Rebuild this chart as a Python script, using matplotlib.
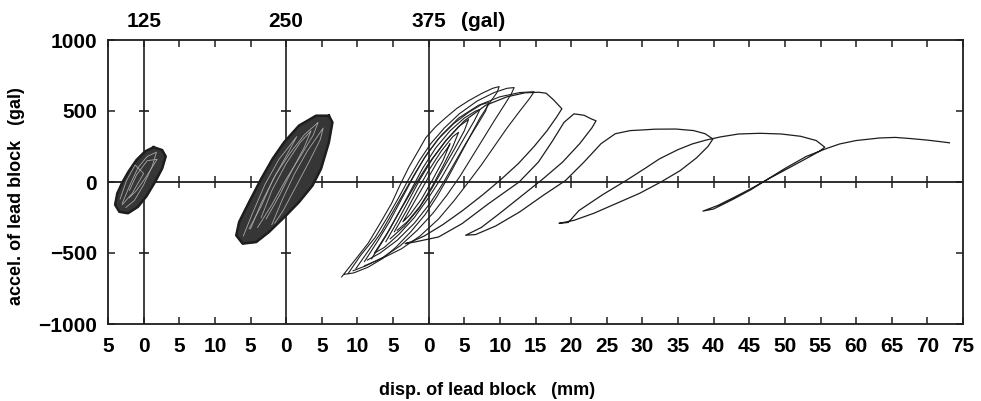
import numpy as np
import matplotlib.pyplot as plt
from matplotlib.transforms import blended_transform_factory

plt.rcParams['font.family'] = ['Liberation Sans', 'DejaVu Sans']
plt.rcParams['font.weight'] = 'bold'

# input levels (gal) and where each panel's zero sits on the shared axis (mm)
levels = ["125", "250", "375"]
origins = [0, 20, 40]

# 125 gal: outline of the dense loop bundle (mm, gal)
blob125 = [(1.4, 245), (2.6, 225), (3.1, 180), (2.6, 95), (1.6, 0), (0.4, -100),
           (-0.8, -175), (-2.2, -220), (-3.4, -210), (-4.0, -160), (-3.7, -81),
           (-3.0, -4), (-2.1, 75), (-1.0, 155), (0.2, 215), (1.4, 245)]
inner125 = [[(-3.0, -150), (-2.0, -30), (-0.8, 100), (0.5, 180), (1.8, 210), (1.2, 110),
             (0.0, -20), (-1.3, -130), (-2.5, -180)],
            [(-2.0, -60), (-1.0, 50), (0.5, 150), (1.9, 160), (0.4, 40), (-1.0, -60),
             (-2.0, -110)],
            [(-3.3, -120), (-2.4, 10), (-1.2, 120), (0.0, 60), (-1.6, -80), (-3.0, -160)]]

# 250 gal
blob250 = [(6.0, 467), (6.5, 420), (6.0, 279), (4.9, 93), (3.7, -25), (1.8, -142),
           (0.0, -235), (-2.4, -352), (-4.2, -423), (-6.1, -434), (-7.0, -376),
           (-6.6, -282), (-5.2, -142), (-3.5, 22), (-1.9, 163), (-0.3, 279),
           (1.8, 397), (4.2, 467), (6.0, 467)]
inner250 = [[(-5.0, -330), (-3.5, -150), (-1.5, 50), (0.5, 200), (2.5, 330), (4.5, 420),
             (3.8, 330), (2.0, 180), (0.0, 20), (-2.0, -160), (-4.0, -320)],
            [(-3.5, -250), (-2.0, -60), (0.0, 130), (2.0, 280), (3.5, 360), (2.5, 240),
             (0.8, 80), (-1.0, -100), (-2.8, -260)],
            [(-6.0, -380), (-4.8, -230), (-3.0, -20), (-1.0, 160), (1.5, 320), (0.2, 200),
             (-1.8, 20), (-3.5, -170), (-5.2, -330)],
            [(-2.0, -300), (-0.5, -120), (1.2, 60), (3.0, 220), (5.2, 380), (4.8, 300),
             (3.2, 140), (1.4, -30), (-0.4, -200), (-1.6, -290)]]

# 375 gal: cluster loops
loops375 = [
    [(-12.2, -668), (-10.5, -560), (-8.5, -432), (-6.8, -290), (-5.2, -151), (-4.0, -20),
     (-2.8, 102), (-1.5, 215), (-0.4, 312), (1.0, 390), (2.4, 453), (4.0, 520), (5.6, 572),
     (7.5, 625), (9.0, 660), (9.9, 672), (9.6, 630), (8.6, 560), (7.2, 450), (5.8, 320),
     (4.3, 180), (2.8, 40), (1.2, -100), (-0.5, -230), (-2.5, -350), (-4.6, -460),
     (-6.5, -540), (-8.5, -600), (-10.5, -640), (-11.8, -650)],
    [(-11.3, -645), (-9.6, -520), (-7.5, -390), (-5.8, -250), (-4.2, -110), (-2.8, 20),
     (-1.3, 150), (0.3, 270), (2.2, 380), (4.3, 480), (6.8, 570), (9.2, 630), (11.0, 660),
     (12.0, 665), (11.6, 620), (10.6, 540), (9.2, 430), (7.6, 300), (6.0, 170), (4.4, 40),
     (2.6, -90), (0.6, -220), (-1.6, -340), (-4.0, -450), (-6.4, -530), (-8.8, -590),
     (-10.6, -625)],
    [(-10.2, -610), (-8.4, -480), (-6.6, -350), (-4.9, -200), (-3.3, -60), (-1.8, 70),
     (-0.2, 200), (1.8, 330), (4.2, 450), (7.0, 540), (10.0, 600), (12.8, 630), (14.8, 636),
     (14.2, 590), (12.8, 500), (11.0, 380), (9.2, 250), (7.4, 120), (5.6, 0), (3.6, -130),
     (1.4, -260), (-1.2, -380), (-3.8, -470), (-6.6, -540), (-9.0, -590)],
    [(-9.0, -560), (-7.2, -420), (-5.5, -280), (-3.8, -120), (-2.2, 30), (-0.6, 170),
     (1.3, 300), (3.5, 410), (5.6, 490), (7.4, 545), (8.4, 560), (8.0, 500), (6.8, 400),
     (5.2, 270), (3.6, 130), (2.0, -10), (0.2, -150), (-2.0, -290), (-4.4, -410),
     (-6.8, -500), (-8.6, -550)],
    [(-7.6, -500), (-5.8, -360), (-4.0, -200), (-2.4, -50), (-0.8, 100), (1.0, 240),
     (3.0, 360), (5.0, 450), (6.6, 500), (7.2, 510), (6.4, 430), (5.0, 310), (3.4, 170),
     (1.8, 30), (0.0, -110), (-2.0, -250), (-4.2, -370), (-6.2, -460), (-7.4, -495)],
    [(-6.0, -420), (-4.4, -280), (-2.8, -130), (-1.2, 20), (0.5, 160), (2.4, 290),
     (4.2, 390), (5.6, 440), (5.0, 360), (3.6, 230), (2.0, 90), (0.4, -50), (-1.4, -190),
     (-3.4, -310), (-5.4, -400)],
    [(-4.8, -350), (-3.2, -210), (-1.6, -60), (0.0, 80), (1.8, 220), (3.4, 320), (4.2, 350),
     (3.4, 250), (2.0, 110), (0.5, -30), (-1.2, -170), (-3.0, -280), (-4.4, -340)],
    [(-3.6, -280), (-2.0, -140), (-0.4, 0), (1.2, 140), (2.8, 250), (3.0, 270), (2.0, 150),
     (0.6, 20), (-1.0, -120), (-2.6, -230), (-3.4, -270)],
]

# 375 gal: ratcheting excursions after yielding
drift375 = [(-8.0, -540), (-6.0, -380), (-4.0, -200), (-2.0, -30), (0.0, 130), (2.4, 290),
            (5.0, 430), (8.0, 540), (11.0, 600), (13.5, 628), (15.5, 632), (16.5, 625),
            (17.5, 580), (18.7, 516),
            (18.0, 460), (16.6, 360), (14.8, 250), (12.6, 130), (10.2, 20), (7.6, -90),
            (4.8, -200), (2.0, -300), (-0.6, -380), (-2.4, -420), (-3.3, -434),
            (-1.9, -422), (1.4, -387), (4.7, -293), (8.4, -153), (12.7, 0), (15.4, 140),
            (17.4, 290), (19.0, 420), (20.4, 480), (21.8, 470), (22.8, 445), (23.5, 431),
            (22.9, 380), (21.2, 270), (18.8, 140), (16.0, 20), (13.0, -100), (10.0, -220),
            (7.4, -320), (5.2, -375),
            (6.6, -370), (9.4, -310), (12.8, -210), (16.2, -90), (19.2, 10), (21.8, 140),
            (24.2, 270), (26.2, 340), (28.3, 362), (29.8, 366),
            (31.8, 372), (34.7, 373), (37.2, 362), (38.8, 340), (39.9, 303),
            (39.2, 250), (37.6, 170), (35.3, 80), (32.6, 0), (29.6, -80), (26.4, -150),
            (23.2, -220), (20.4, -270), (18.3, -291),
            (19.6, -285), (21.1, -201), (24.4, -90), (27.7, 10), (30.5, 100), (32.4, 163),
            (35.0, 228), (37.0, 268), (39.0, 296), (41.0, 318), (43.5, 338), (46.5, 343),
            (49.5, 338), (52.2, 322), (54.4, 292), (55.6, 245),
            (54.8, 215), (53.0, 165), (50.6, 100), (48.0, 30), (45.5, -40), (43.0, -105),
            (40.6, -165), (38.5, -205),
            (40.0, -190), (42.8, -120), (45.2, -55), (47.1, 5), (50.0, 95), (53.0, 180),
            (55.8, 235), (57.7, 268), (60.0, 292), (63.3, 310), (65.5, 314), (67.6, 306),
            (70.0, 295), (72.0, 283), (73.1, 276)]

LC = "#1e1e1e"

def xy(pts, o):
    a = np.array(pts, dtype=float)
    return a[:, 0] + o, a[:, 1]

fig = plt.figure(figsize=(9.81, 4.01), dpi=100)
ax = fig.add_axes([108 / 981, 77 / 401, 855 / 981, 284 / 401])

# axis cross lines
ax.axhline(0, color=LC, lw=1.3, zorder=1)
for o in origins:
    ax.axvline(o, color=LC, lw=1.2, zorder=1)
    ax.hlines([500, -500], o - 0.7, o + 0.7, color=LC, lw=1.2, zorder=1)
xt = np.arange(-5, 116, 5)
ax.vlines([t for t in xt if t not in origins and -5 < t < 115], -40, 40,
          color=LC, lw=1.1, zorder=1)

# 125 and 250 gal bundles
for pts, inner, o in [(blob125, inner125, origins[0]), (blob250, inner250, origins[1])]:
    x, y = xy(pts, o)
    ax.fill(x, y, color="#363636", zorder=2)
    ax.plot(x, y, color=LC, lw=1.8, zorder=3)
    for lp in inner:
        x, y = xy(lp, o)
        ax.plot(x, y, color="#a8a8a8", lw=0.6, zorder=3)

# 375 gal
for lp in loops375:
    x, y = xy(lp, origins[2])
    ax.plot(x, y, color=LC, lw=0.8, zorder=3)
x, y = xy(drift375, origins[2])
ax.plot(x, y, color=LC, lw=0.9, zorder=3)

ax.set_xlim(-5, 115)
ax.set_ylim(-1000, 1000)
ax.set_xticks(xt)
lab = []
for t in xt:
    o = 0 if t <= 10 else (20 if t <= 30 else 40)
    lab.append(str(int(abs(t - o))))
ax.set_xticklabels(lab)
ax.set_yticks([-1000, -500, 0, 500, 1000])
ax.tick_params(direction="in", top=True, right=True, length=5, width=1.1,
               labelsize=15, color=LC)
ax.tick_params(axis="x", pad=9)
ax.tick_params(axis="y", pad=8)
for s in ax.spines.values():
    s.set_linewidth(1.3)
    s.set_color(LC)

tr = blended_transform_factory(ax.transData, ax.transAxes)
for lv, o in zip(levels, origins):
    ax.text(o, 1.065, lv, transform=tr, ha="center", va="center", fontsize=15)
ax.text(47.6, 1.065, "(gal)", transform=tr, ha="center", va="center", fontsize=15)

ax.set_xlabel("disp. of lead block   (mm)", fontsize=13, fontweight="bold")
ax.xaxis.set_label_coords(0.443, -0.205)
ax.set_ylabel("accel. of lead block   (gal)", fontsize=13, fontweight="bold")
ax.yaxis.set_label_coords(-0.097, 0.45)

plt.savefig("out.png", dpi=100)
